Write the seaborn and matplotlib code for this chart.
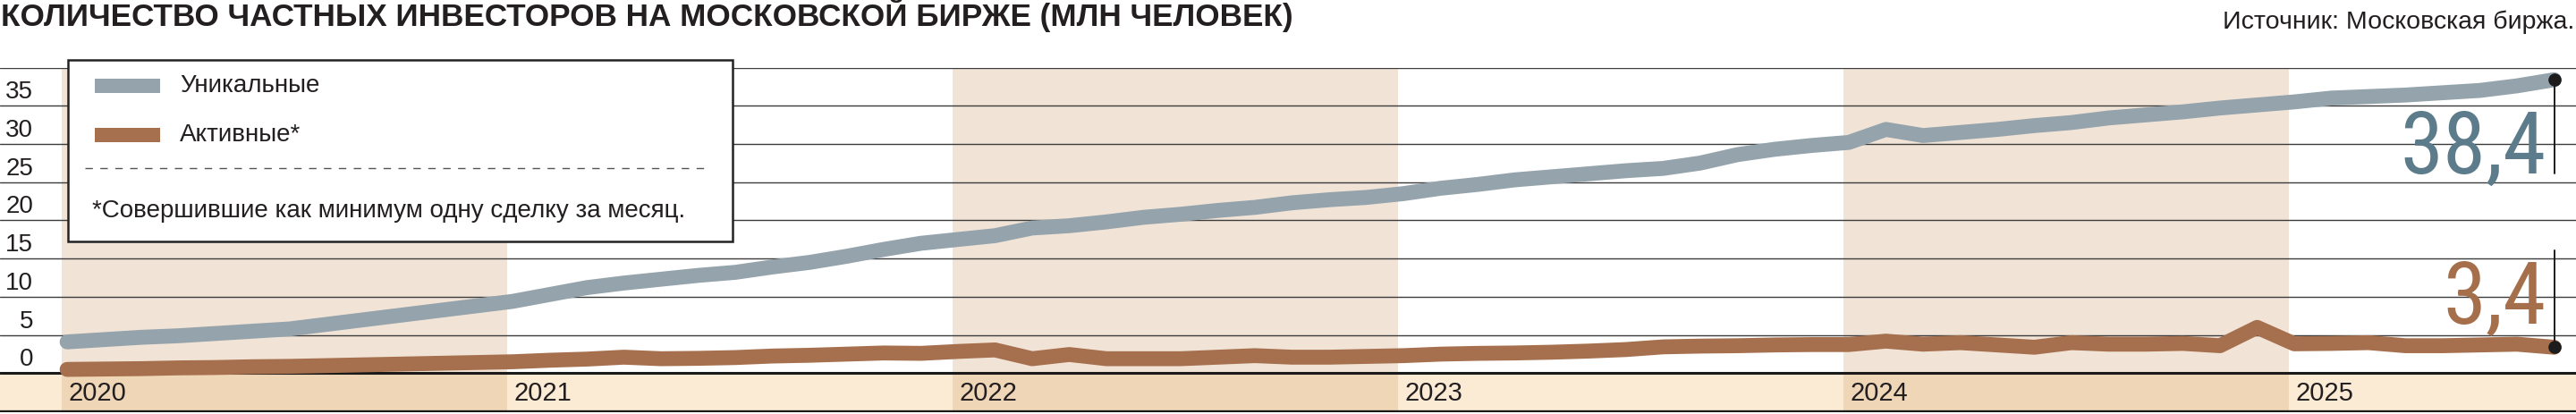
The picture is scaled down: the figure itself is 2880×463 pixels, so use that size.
import numpy as np
import pandas as pd
import matplotlib
matplotlib.use("Agg")
import matplotlib.pyplot as plt
import matplotlib.transforms as mtransforms
from matplotlib import font_manager as fm
from matplotlib.patches import Rectangle
from matplotlib.lines import Line2D
import seaborn as sns

# ---- data (млн человек, помесячно, янв 2020 - авг 2025) ----
months = pd.date_range("2020-01-01", periods=68, freq="MS")
unique = [4.1, 4.4, 4.7, 4.9, 5.2, 5.5, 5.8, 6.4, 7.0, 7.6, 8.2, 8.8,
          9.4, 10.3, 11.2, 11.8, 12.3, 12.8, 13.2, 13.9, 14.5, 15.3, 16.2, 17.0,
          17.5, 18.0, 19.0, 19.3, 19.8, 20.4, 20.8, 21.3, 21.7, 22.3, 22.7, 23.0,
          23.5, 24.2, 24.7, 25.3, 25.7, 26.1, 26.5, 26.8, 27.5, 28.6, 29.3, 29.8,
          30.2, 31.9, 31.1, 31.5, 31.9, 32.4, 32.8, 33.4, 33.8, 34.2, 34.7, 35.1,
          35.5, 36.0, 36.2, 36.4, 36.7, 37.0, 37.6, 38.4]
active = [0.5, 0.55, 0.6, 0.7, 0.75, 0.85, 0.9, 1.0, 1.1, 1.2, 1.3, 1.4,
          1.5, 1.7, 1.85, 2.1, 1.9, 1.95, 2.05, 2.25, 2.35, 2.5, 2.65, 2.6,
          2.85, 3.05, 1.9, 2.45, 1.9, 1.9, 1.9, 2.1, 2.3, 2.1, 2.1, 2.2,
          2.3, 2.5, 2.6, 2.65, 2.75, 2.9, 3.1, 3.45, 3.55, 3.6, 3.7, 3.75,
          3.75, 4.2, 3.8, 4.0, 3.7, 3.4, 4.0, 3.8, 3.8, 3.9, 3.6, 6.0,
          3.85, 3.9, 4.0, 3.6, 3.6, 3.7, 3.8, 3.4]
series_names = ["Уникальные", "Активные*"]
years = [2020, 2021, 2022, 2023, 2024, 2025]
shaded_years = [2020, 2022, 2024]
yticks = [0, 5, 10, 15, 20, 25, 30, 35]
gridlines = [5, 10, 15, 20, 25, 30, 35, 40]
end_labels = ["38,4", "3,4"]

title = "КОЛИЧЕСТВО ЧАСТНЫХ ИНВЕСТОРОВ НА МОСКОВСКОЙ БИРЖЕ (МЛН ЧЕЛОВЕК)"
source = "Источник: Московская биржа."
footnote = "*Совершившие как минимум одну сделку за месяц."

GREY = "#95a3ac"
BROWN = "#a6704e"
BLUE_TXT = "#5c7b8b"
BROWN_TXT = "#a66f4b"
SHADE = "#f1e4d7"
CREAM = "#fbebd4"
CREAM_DARK = "#efd6b7"
INK = "#231f20"

sns.set_theme(style="white")
plt.rcParams["font.family"] = ["Liberation Sans", "DejaVu Sans"]

# narrow face for the big end numbers, if one is installed
installed = {f.name for f in fm.fontManager.ttflist}
big_font, big_size = "Liberation Sans", 56
for name, size in [("Noto Sans ExtraCondensed", 72), ("Roboto Condensed", 70),
                   ("Noto Sans Condensed", 70), ("Liberation Sans Narrow", 70),
                   ("Open Sans Condensed", 70)]:
    if name in installed:
        big_font, big_size = name, size
        break

W, H = 2880, 463
def fx(px):
    return px / W
def fy(py):
    return 1 - py / H

t = (months.year - 2020) * 12 + months.month - 1
df = pd.DataFrame({
    "t": np.concatenate([t, t]),
    "value": unique + active,
    "series": [series_names[0]] * len(t) + [series_names[1]] * len(t),
})

fig = plt.figure(figsize=(W / 100, H / 100), dpi=100)
ax = fig.add_axes([0, fy(461), 1, (461 - 75.5) / H])
step = 41.5
ax.set_xlim(-75 / step, (W - 75) / step)
ax.set_ylim(-5.1, 40)
ax.set_axis_off()

# bottom band and year shading
ax.add_patch(Rectangle((-10, -5.1), 100, 5.1, color=CREAM, zorder=1, lw=0))
for y in shaded_years:
    x0 = (y - 2020) * 12 - 0.15
    ax.add_patch(Rectangle((x0, 0), 12, 40, color=SHADE, zorder=1, lw=0))
    ax.add_patch(Rectangle((x0, -5.1), 12, 5.1, color=CREAM_DARK, zorder=1.5, lw=0))

for v in gridlines:
    ax.axhline(v, color="#3c3c3c", lw=1.0, zorder=2)
ax.axhline(0, color="#1a1a1a", lw=2.2, zorder=3)
ax.axhline(-4.95, color="#1a1a1a", lw=2.4, zorder=3)

trans = mtransforms.blended_transform_factory(ax.transAxes, ax.transData)
for v in yticks:
    ax.text(37 / W, v + 0.95, str(v), transform=trans, ha="right", va="baseline",
            fontsize=20, color=INK, zorder=4)

for y in years:
    x0 = (y - 2020) * 12 - 0.15
    ax.text(x0 + 0.18, -2.6, str(y), ha="left", va="center", fontsize=21,
            color=INK, zorder=4)

n0 = len(ax.lines)
sns.lineplot(data=df, x="t", y="value", hue="series",
             palette={series_names[0]: GREY, series_names[1]: BROWN},
             linewidth=12, legend=False, ax=ax, zorder=5,
             solid_capstyle="round")
for ln in ax.lines[n0:]:
    ln.set_linewidth(12)
    ln.set_solid_capstyle("round")

# end markers and labels
xe = t[-1]
ax.plot([xe, xe], [unique[-1], unique[-1] - 12.3], color="#1c1c1c", lw=1.4, zorder=6)
ax.plot([xe, xe], [active[-1], active[-1] + 12.7], color="#1c1c1c", lw=1.4, zorder=6)
ax.plot([xe, xe], [unique[-1], active[-1]], "o", color="#1c1c1c", ms=9.5, zorder=7)
ax.text(xe - 0.22, unique[-1] - 12.3, end_labels[0], ha="right", va="baseline",
        fontsize=big_size, color=BLUE_TXT, family=big_font, zorder=7)
ax.text(xe - 0.22, active[-1] + 3.1, end_labels[1], ha="right", va="baseline",
        fontsize=big_size, color=BROWN_TXT, family=big_font, zorder=7)

# legend box
fig.add_artist(Rectangle((fx(76), fy(270)), (819 - 76) / W, (270 - 67) / H,
                         transform=fig.transFigure, facecolor="white",
                         edgecolor="#222222", lw=1.8, zorder=10))
for name, col, yc in [(series_names[0], GREY, 96), (series_names[1], BROWN, 151)]:
    fig.add_artist(Rectangle((fx(106), fy(yc + 8)), 73 / W, 16 / H,
                             transform=fig.transFigure, color=col, lw=0, zorder=11))
    fig.text(fx(201), fy(yc), name, ha="left", va="center", fontsize=20,
             color=INK, zorder=11)
fig.add_artist(Line2D([fx(95), fx(795)], [fy(188), fy(188)], transform=fig.transFigure,
                      color="#555555", lw=1.0, ls=(0, (6, 6)), zorder=11))
fig.text(fx(103), fy(236), footnote, ha="left", va="center", fontsize=20,
         color=INK, zorder=11)

fig.text(fx(1), fy(16), title, ha="left", va="center", fontsize=25.3,
         fontweight="bold", color=INK)
fig.text(fx(2878), fy(25), source, ha="right", va="center", fontsize=20.5, color=INK)

fig.savefig("out.png", dpi=100)
